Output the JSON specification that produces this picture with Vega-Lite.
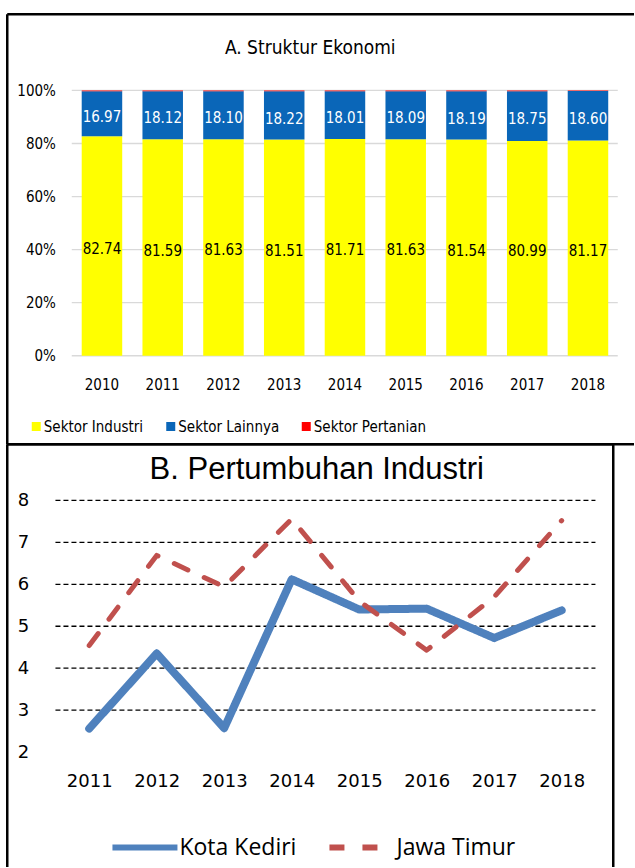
{
  "$schema": "https://vega.github.io/schema/vega-lite/v6.json",
  "background": "white",
  "padding": {"left": 6.75, "top": 13.75, "right": 0, "bottom": 0},
  "spacing": 0,
  "bounds": "flush",
  "resolve": {
    "scale": {"color": "independent", "strokeDash": "independent"},
    "legend": {"color": "independent", "strokeDash": "independent"}
  },
  "config": {
    "view": {"stroke": null},
    "axis": {"labelColor": "#000"}
  },
  "datasets": {
    "struktur": [
      {"year": "2010", "sector": "Sektor Industri", "value": 82.74},
      {"year": "2010", "sector": "Sektor Lainnya", "value": 16.97},
      {"year": "2010", "sector": "Sektor Pertanian", "value": 0.29},
      {"year": "2011", "sector": "Sektor Industri", "value": 81.59},
      {"year": "2011", "sector": "Sektor Lainnya", "value": 18.12},
      {"year": "2011", "sector": "Sektor Pertanian", "value": 0.29},
      {"year": "2012", "sector": "Sektor Industri", "value": 81.63},
      {"year": "2012", "sector": "Sektor Lainnya", "value": 18.10},
      {"year": "2012", "sector": "Sektor Pertanian", "value": 0.27},
      {"year": "2013", "sector": "Sektor Industri", "value": 81.51},
      {"year": "2013", "sector": "Sektor Lainnya", "value": 18.22},
      {"year": "2013", "sector": "Sektor Pertanian", "value": 0.27},
      {"year": "2014", "sector": "Sektor Industri", "value": 81.71},
      {"year": "2014", "sector": "Sektor Lainnya", "value": 18.01},
      {"year": "2014", "sector": "Sektor Pertanian", "value": 0.28},
      {"year": "2015", "sector": "Sektor Industri", "value": 81.63},
      {"year": "2015", "sector": "Sektor Lainnya", "value": 18.09},
      {"year": "2015", "sector": "Sektor Pertanian", "value": 0.28},
      {"year": "2016", "sector": "Sektor Industri", "value": 81.54},
      {"year": "2016", "sector": "Sektor Lainnya", "value": 18.19},
      {"year": "2016", "sector": "Sektor Pertanian", "value": 0.27},
      {"year": "2017", "sector": "Sektor Industri", "value": 80.99},
      {"year": "2017", "sector": "Sektor Lainnya", "value": 18.75},
      {"year": "2017", "sector": "Sektor Pertanian", "value": 0.26},
      {"year": "2018", "sector": "Sektor Industri", "value": 81.17},
      {"year": "2018", "sector": "Sektor Lainnya", "value": 18.60},
      {"year": "2018", "sector": "Sektor Pertanian", "value": 0.23}
    ],
    "pertumbuhan": [
      {"year": "2011", "series": "Kota Kediri", "value": 2.56},
      {"year": "2012", "series": "Kota Kediri", "value": 4.35},
      {"year": "2013", "series": "Kota Kediri", "value": 2.57},
      {"year": "2014", "series": "Kota Kediri", "value": 6.12},
      {"year": "2015", "series": "Kota Kediri", "value": 5.40},
      {"year": "2016", "series": "Kota Kediri", "value": 5.42},
      {"year": "2017", "series": "Kota Kediri", "value": 4.72},
      {"year": "2018", "series": "Kota Kediri", "value": 5.38},
      {"year": "2011", "series": "Jawa Timur", "value": 4.54},
      {"year": "2012", "series": "Jawa Timur", "value": 6.69},
      {"year": "2013", "series": "Jawa Timur", "value": 5.94},
      {"year": "2014", "series": "Jawa Timur", "value": 7.56},
      {"year": "2015", "series": "Jawa Timur", "value": 5.60},
      {"year": "2016", "series": "Jawa Timur", "value": 4.43},
      {"year": "2017", "series": "Jawa Timur", "value": 5.70},
      {"year": "2018", "series": "Jawa Timur", "value": 7.52}
    ]
  },
  "vconcat": [
    {
      "width": 627,
      "height": 430,
      "title": {
        "text": "A. Struktur Ekonomi",
        "font": "DejaVu Sans Condensed",
        "fontSize": 19,
        "fontWeight": "normal",
        "color": "#000",
        "anchor": "middle",
        "frame": "group",
        "baseline": "alphabetic",
        "offset": -59,
        "dx": -10
      },
      "resolve": {"scale": {"x": "independent", "y": "independent"}},
      "layer": [
        {
          "data": {"values": [{"tick": 0}, {"tick": 20}, {"tick": 40}, {"tick": 60}, {"tick": 80}, {"tick": 100}]},
          "mark": {"type": "rule", "color": "#D9D9D9", "strokeWidth": 1.3},
          "encoding": {
            "y": {"field": "tick", "type": "quantitative", "scale": {"domain": [-33.17, 128.91], "nice": false, "zero": false},
                  "axis": {"orient": "left", "offset": 0, "domain": true, "domainColor": "#000", "domainWidth": 2.5, "labels": false, "ticks": false, "grid": false, "title": null}},
            "x": {"datum": 0, "type": "quantitative", "scale": {"domain": [-0.11905, 1.0293], "nice": false, "zero": false},
                  "axis": {"orient": "top", "offset": 0, "domain": true, "domainColor": "#000", "domainWidth": 2.5, "labels": false, "ticks": false, "grid": false, "title": null}},
            "x2": {"datum": 1}
          }
        },
        {
          "data": {"name": "struktur"},
          "mark": {"type": "bar"},
          "encoding": {
            "x": {"field": "year", "type": "ordinal",
                  "scale": {"type": "band", "paddingInner": 0.3333, "paddingOuter": 0.827, "align": 0.746},
                  "axis": {"orient": "bottom", "offset": -88, "domain": false, "ticks": false, "tickSize": 0, "labelPadding": 22, "labelAngle": 0, "title": null, "grid": false,
                           "labelFont": "DejaVu Sans Condensed", "labelFontSize": 15, "labelColor": "#000"}},
            "y": {"field": "value", "type": "quantitative", "stack": "zero",
                  "scale": {"domain": [-33.17, 128.91], "nice": false, "zero": false},
                  "axis": {"orient": "left", "offset": -65, "values": [0, 20, 40, 60, 80, 100], "labelExpr": "datum.value + '%'", "domain": false, "ticks": false, "tickSize": 0, "grid": false, "labelPadding": 16.3, "title": null,
                           "labelFont": "DejaVu Sans Condensed", "labelFontSize": 15, "labelColor": "#000"}},
            "order": {"field": "sector", "sort": "ascending"},
            "color": {"field": "sector", "type": "nominal",
                      "scale": {"domain": ["Sektor Industri", "Sektor Lainnya", "Sektor Pertanian"], "range": ["#FFFF00", "#0A66B8", "#FF0000"]},
                      "legend": {"orient": "none", "legendX": 22, "legendY": 405, "direction": "horizontal", "title": null,
                                 "symbolType": "square", "symbolSize": 81, "symbolStrokeWidth": 0,
                                 "labelFont": "DejaVu Sans Condensed", "labelFontSize": 15, "labelColor": "#000",
                                 "labelOffset": 0, "columnPadding": 19.5}}
          }
        },
        {
          "data": {"name": "struktur"},
          "transform": [{"filter": "datum.sector === 'Sektor Industri'"}],
          "mark": {"type": "text", "font": "DejaVu Sans Condensed", "fontSize": 15, "color": "#000", "baseline": "middle", "dy": 3},
          "encoding": {
            "x": {"field": "year", "type": "ordinal",
                  "scale": {"type": "band", "paddingInner": 0.3333, "paddingOuter": 0.827, "align": 0.746},
                  "axis": {"orient": "bottom", "offset": 0, "domain": true, "domainColor": "#000", "domainWidth": 2.5, "labels": false, "ticks": false, "grid": false, "title": null}},
            "y": {"field": "value", "type": "quantitative", "scale": {"domain": [-66.34, 257.82], "nice": false, "zero": false}, "axis": null},
            "text": {"field": "value", "type": "quantitative", "format": ".2f"}
          }
        },
        {
          "data": {"name": "struktur"},
          "transform": [{"filter": "datum.sector === 'Sektor Lainnya'"}],
          "mark": {"type": "text", "font": "DejaVu Sans Condensed", "fontSize": 15, "color": "#FFFFFF", "baseline": "middle", "dy": 4},
          "encoding": {
            "x": {"field": "year", "type": "ordinal",
                  "scale": {"type": "band", "paddingInner": 0.3333, "paddingOuter": 0.827, "align": 0.746},
                  "axis": null},
            "y": {"field": "value", "type": "quantitative", "scale": {"domain": [-57.82, 266.34], "reverse": true, "nice": false, "zero": false}, "axis": null},
            "text": {"field": "value", "type": "quantitative", "format": ".2f"}
          }
        }
      ]
    },
    {
      "width": 606,
      "height": 423,
      "title": {
        "text": "B. Pertumbuhan Industri",
        "font": "Liberation Sans, Arial, sans-serif",
        "fontSize": 31,
        "fontWeight": "normal",
        "color": "#000",
        "anchor": "middle",
        "frame": "group",
        "baseline": "alphabetic",
        "offset": -66,
        "dx": 7
      },
      "resolve": {"scale": {"x": "independent", "y": "independent"}},
      "layer": [
        {
          "data": {"values": [{"tick": 3}, {"tick": 4}, {"tick": 5}, {"tick": 6}, {"tick": 7}, {"tick": 8}]},
          "mark": {"type": "rule", "color": "#000", "strokeWidth": 1.3, "strokeDash": [5, 3]},
          "encoding": {
            "y": {"field": "tick", "type": "quantitative", "scale": {"domain": [-0.7355, 9.3528], "nice": false, "zero": false},
                  "axis": {"orient": "left", "offset": 0, "domain": true, "domainColor": "#000", "domainWidth": 2.5, "labels": false, "ticks": false, "grid": false, "title": null}},
            "x": {"datum": 0, "type": "quantitative", "scale": {"domain": [-0.09019, 1.03204], "nice": false, "zero": false},
                  "axis": {"orient": "top", "offset": 0, "domain": true, "domainColor": "#000", "domainWidth": 2.5, "labels": false, "ticks": false, "grid": false, "title": null}},
            "x2": {"datum": 1}
          }
        },
        {
          "mark": {"type": "rule", "color": "#000", "strokeWidth": 1.3, "strokeDash": [5, 3]},
          "encoding": {
            "x": {"datum": 1, "type": "quantitative", "scale": {"domain": [-0.09019, 1.03204], "nice": false, "zero": false}, "axis": null},
            "y": {"datum": 2, "type": "quantitative", "scale": {"domain": [-0.7355, 9.3528], "nice": false, "zero": false},
                  "axis": {"orient": "right", "offset": 0, "domain": true, "domainColor": "#000", "domainWidth": 2.5, "labels": false, "ticks": false, "grid": false, "title": null}},
            "y2": {"datum": 8}
          }
        },
        {
          "mark": {"type": "rule", "color": "#000", "strokeWidth": 1.8},
          "encoding": {
            "x": {"datum": 0, "type": "quantitative", "scale": {"domain": [-0.09019, 1.03204], "nice": false, "zero": false}, "axis": null},
            "y": {"datum": 2, "type": "quantitative", "scale": {"domain": [-0.7355, 9.3528], "nice": false, "zero": false}, "axis": null},
            "y2": {"datum": 8}
          }
        },
        {
          "mark": {"type": "rule", "color": "#000", "strokeWidth": 1.8},
          "encoding": {
            "x": {"datum": 0, "type": "quantitative", "scale": {"domain": [-0.09019, 1.03204], "nice": false, "zero": false}, "axis": null},
            "x2": {"datum": 1},
            "y": {"datum": 2, "type": "quantitative", "scale": {"domain": [-0.7355, 9.3528], "nice": false, "zero": false}, "axis": null}
          }
        },
        {
          "data": {"name": "pertumbuhan"},
          "mark": {"type": "line", "strokeCap": "round", "strokeJoin": "round"},
          "encoding": {
            "x": {"field": "year", "type": "ordinal",
                  "scale": {"type": "point", "padding": 0.989, "align": 0.6176},
                  "axis": {"orient": "bottom", "offset": -114.7, "domain": false, "ticks": false, "tickSize": 0, "labelPadding": 20, "labelAngle": 0, "title": null, "grid": false,
                           "labelFont": "DejaVu Sans", "labelFontSize": 18, "labelColor": "#000"}},
            "y": {"field": "value", "type": "quantitative",
                  "scale": {"domain": [-0.7355, 9.3528], "nice": false, "zero": false},
                  "axis": {"orient": "left", "offset": -48.7, "values": [2, 3, 4, 5, 6, 7, 8], "domain": false, "ticks": false, "tickSize": 0, "grid": false, "labelPadding": 26.7, "title": null,
                           "labelFont": "DejaVu Sans", "labelFontSize": 18, "labelColor": "#000"}},
            "color": {"field": "series", "type": "nominal",
                      "scale": {"domain": ["Kota Kediri", "Jawa Timur"], "range": ["#4F81BD", "#C0504D"]},
                      "legend": {"orient": "none", "legendX": 102.7, "legendY": 368, "direction": "horizontal", "title": null,
                                 "symbolType": "stroke", "symbolSize": 4225, "symbolStrokeWidth": 6,
                                 "labelFont": "Open Sans", "labelFontSize": 23, "labelColor": "#000",
                                 "labelOffset": -1, "columnPadding": 21}},
            "strokeDash": {"field": "series", "type": "nominal",
                           "scale": {"domain": ["Kota Kediri", "Jawa Timur"], "range": [[1, 0], [15, 18]]},
                           "legend": {"orient": "none", "legendX": 102.7, "legendY": 368, "direction": "horizontal", "title": null,
                                      "symbolType": "stroke", "symbolSize": 4225, "symbolStrokeWidth": 6,
                                      "labelFont": "Open Sans", "labelFontSize": 23, "labelColor": "#000",
                                      "labelOffset": -1, "columnPadding": 21}},
            "strokeWidth": {"condition": {"test": "datum.series === 'Kota Kediri'", "value": 8}, "value": 5}
          }
        }
      ]
    }
  ]
}
